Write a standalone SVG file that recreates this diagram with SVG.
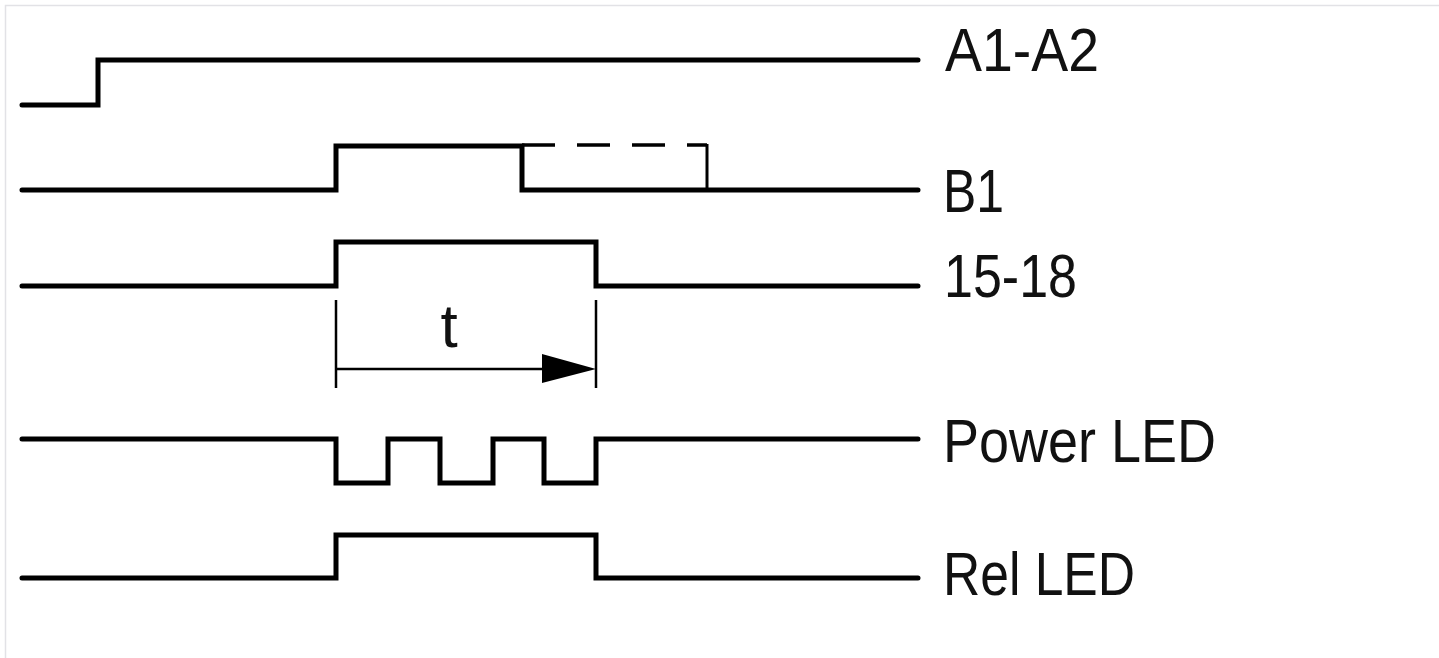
<svg xmlns="http://www.w3.org/2000/svg" width="1439" height="658" viewBox="0 0 1439 658">
<style>
.sig{fill:none;stroke:#000;stroke-width:5;stroke-linejoin:miter;stroke-linecap:round}
.thin{fill:none;stroke:#000;stroke-width:2.5}
.lbl{font-family:"Liberation Sans",Arial,sans-serif;font-size:62px;fill:#111}
</style>
<rect width="1439" height="658" fill="#fff"/>
<path d="M5.5 658V5.5H1439" fill="none" stroke="#e2e2e6" stroke-width="1.5"/>
<g id="connectors">
<g id="sig-a1a2"><path class="sig" d="M22 105H98V60H918"/></g>
<g id="sig-b1">
<path class="sig" d="M22 190H336V146H522V190H918"/>
<path fill="none" stroke="#000" stroke-width="3.5" stroke-dasharray="33 22" d="M522 145H707"/>
<path fill="none" stroke="#000" stroke-width="3" d="M707 144V190"/>
</g>
<g id="sig-1518"><path class="sig" d="M22 286H336V242H596V286H918"/></g>
<g id="timing-t">
<path class="thin" d="M336 300V388M596 300V388M336 369H545"/>
<polygon points="542,354 596,369 542,383" fill="#000"/>
</g>
<g id="sig-powerled"><path class="sig" d="M22 439H336V483H388V439H440V483H493V439H544V483H596V439H918"/></g>
<g id="sig-relled"><path class="sig" d="M22 578H336V535H596V578H918"/></g>
</g>
<g id="label-a1a2"><text class="lbl" x="945" y="71" textLength="154" lengthAdjust="spacingAndGlyphs">A1-A2</text></g>
<g id="label-b1"><text class="lbl" x="943" y="212" textLength="61" lengthAdjust="spacingAndGlyphs">B1</text></g>
<g id="label-1518"><text class="lbl" x="944" y="297" textLength="133" lengthAdjust="spacingAndGlyphs">15-18</text></g>
<g id="label-t"><text class="lbl" x="449" y="347" text-anchor="middle">t</text></g>
<g id="label-powerled"><text class="lbl" x="943" y="462" textLength="273" lengthAdjust="spacingAndGlyphs">Power LED</text></g>
<g id="label-relled"><text class="lbl" x="943" y="595" textLength="192" lengthAdjust="spacingAndGlyphs">Rel LED</text></g>
</svg>
